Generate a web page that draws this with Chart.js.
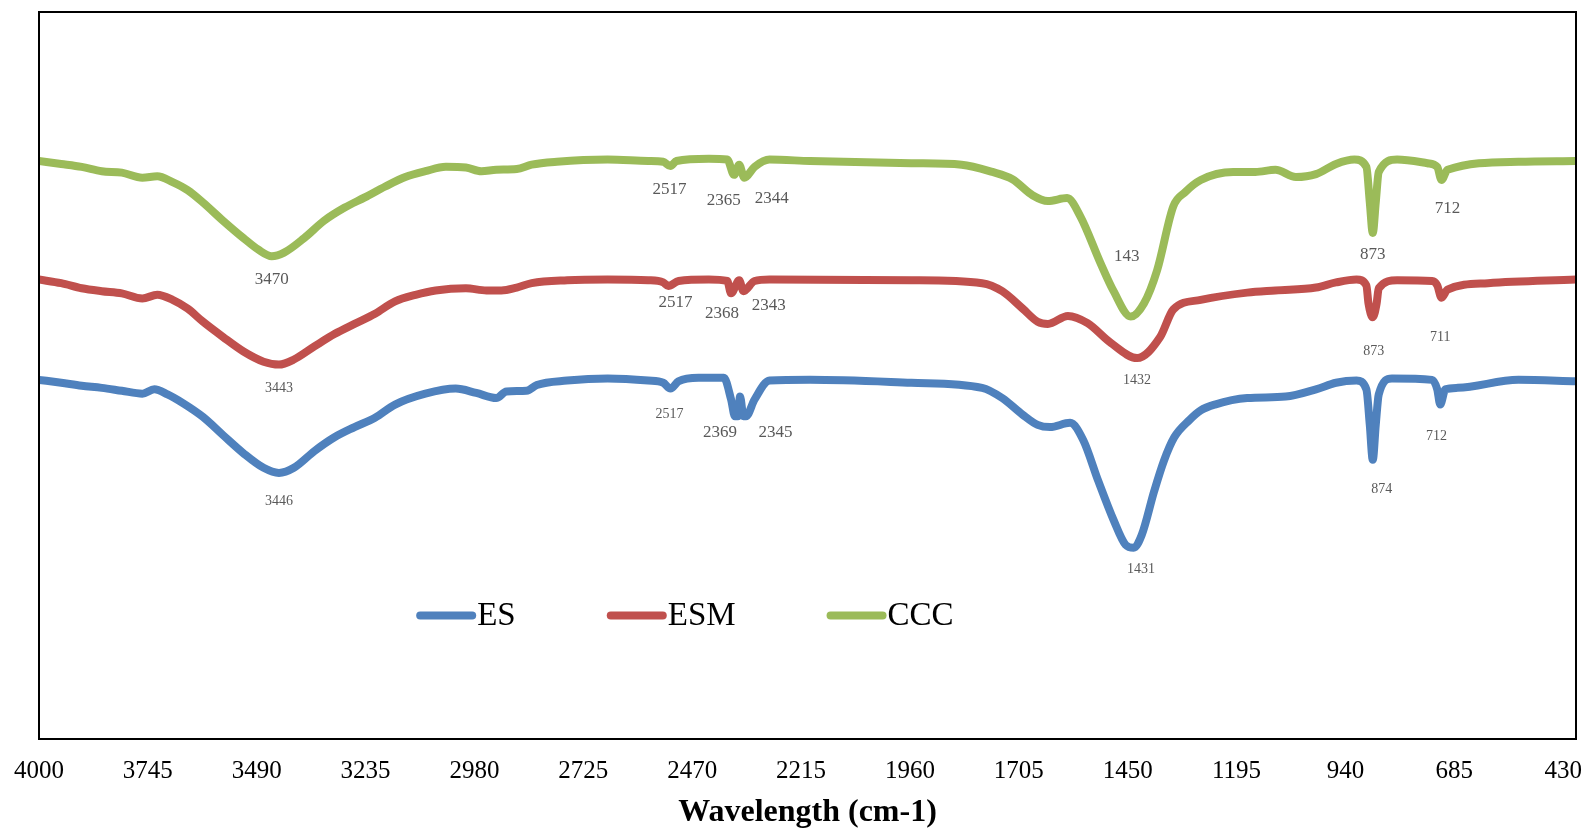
<!DOCTYPE html>
<html>
<head>
<meta charset="utf-8">
<script src="https://cdn.jsdelivr.net/npm/chart.js@4"></script>
<style>
  html, body { margin: 0; padding: 0; background: #fff; }
  #wrap { width: 1587px; height: 830px; }
</style>
</head>
<body>
<div id="wrap"><canvas id="ftirChart" width="1587" height="830"></canvas></div>
<script>
// x ticks (wavenumber, cm-1)
const tickValues = [4000, 3745, 3490, 3235, 2980, 2725, 2470, 2215, 1960, 1705, 1450, 1195, 940, 685, 430];

// ES (blue)
const esWn = [4000, 3948, 3900, 3853, 3806, 3758, 3730, 3699, 3663, 3616, 3569, 3521, 3474, 3438, 3403, 3355, 3308, 3261, 3213, 3166, 3095, 3024, 2976, 2929, 2905, 2858, 2834, 2763, 2668, 2573, 2538, 2521, 2502, 2455, 2396, 2379, 2370, 2363, 2358, 2350, 2344, 2324, 2289, 2194, 1957, 1791, 1744, 1696, 1661, 1632, 1585, 1554, 1519, 1483, 1455, 1436, 1417, 1388, 1365, 1341, 1305, 1279, 1246, 1170, 1080, 1009, 962, 914, 891, 883, 876, 869, 862, 831, 737, 725, 718, 706, 677, 535, 400];
const esT  = [49.4, 49.0, 48.6, 48.3, 47.9, 47.5, 48.1, 47.4, 46.2, 44.3, 41.8, 39.3, 37.3, 36.6, 37.3, 39.6, 41.5, 42.9, 44.2, 46.0, 47.5, 48.2, 47.6, 46.9, 47.8, 47.9, 48.7, 49.3, 49.6, 49.3, 49.0, 48.2, 49.2, 49.7, 49.7, 46.7, 44.4, 44.4, 47.1, 44.4, 44.4, 46.7, 49.3, 49.4, 49.0, 48.3, 46.9, 44.6, 43.2, 42.9, 43.5, 41.1, 35.5, 30.1, 26.7, 26.3, 28.1, 34.1, 38.3, 41.5, 43.9, 45.2, 46.0, 46.9, 47.1, 48.1, 49.0, 49.3, 48.1, 43.2, 38.4, 43.2, 47.4, 49.6, 49.4, 48.1, 46.0, 48.1, 48.3, 49.4, 49.2];

// ESM (red)
const esmWn = [4000, 3948, 3900, 3853, 3806, 3758, 3723, 3687, 3652, 3616, 3569, 3521, 3474, 3438, 3403, 3355, 3308, 3261, 3213, 3166, 3118, 3071, 3000, 2952, 2917, 2881, 2846, 2763, 2668, 2573, 2538, 2526, 2502, 2431, 2388, 2379, 2360, 2350, 2324, 2289, 1957, 1791, 1744, 1696, 1661, 1637, 1590, 1544, 1490, 1428, 1374, 1343, 1279, 1170, 1104, 1009, 962, 914, 891, 886, 876, 867, 862, 819, 737, 725, 715, 701, 606, 400];
const esmT  = [63.2, 62.7, 62.0, 61.6, 61.3, 60.6, 61.1, 60.4, 59.2, 57.4, 55.3, 53.3, 51.9, 51.5, 52.2, 54.0, 55.7, 57.1, 58.5, 60.2, 61.1, 61.7, 62.0, 61.7, 61.7, 62.1, 62.7, 63.1, 63.2, 63.1, 62.8, 62.3, 63.0, 63.2, 63.0, 61.3, 63.1, 61.6, 63.0, 63.2, 63.1, 62.7, 61.6, 59.2, 57.4, 57.1, 58.2, 57.2, 54.5, 52.4, 55.3, 59.1, 60.4, 61.4, 61.7, 62.1, 62.8, 63.2, 62.4, 59.9, 58.0, 59.9, 62.0, 63.1, 63.0, 62.4, 60.7, 61.8, 62.7, 63.2];

// CCC (green)
const cccWn = [4000, 3948, 3900, 3853, 3806, 3758, 3723, 3687, 3652, 3616, 3569, 3521, 3486, 3455, 3426, 3379, 3332, 3284, 3237, 3189, 3142, 3095, 3047, 3000, 2964, 2929, 2881, 2846, 2787, 2668, 2573, 2538, 2521, 2507, 2431, 2388, 2372, 2360, 2348, 2324, 2289, 2194, 1957, 1839, 1767, 1720, 1673, 1637, 1592, 1561, 1514, 1483, 1443, 1412, 1381, 1343, 1316, 1279, 1203, 1151, 1104, 1056, 1009, 962, 919, 891, 883, 876, 869, 862, 819, 748, 725, 715, 701, 535, 400];
const cccT  = [79.5, 79.1, 78.7, 78.1, 77.9, 77.2, 77.4, 76.6, 75.5, 73.8, 71.3, 68.9, 67.3, 66.4, 66.9, 68.9, 71.3, 73.1, 74.5, 76.0, 77.3, 78.1, 78.7, 78.6, 78.1, 78.3, 78.4, 79.0, 79.4, 79.7, 79.5, 79.4, 78.8, 79.5, 79.8, 79.7, 77.6, 79.0, 77.2, 78.7, 79.7, 79.5, 79.2, 79.0, 78.0, 77.0, 74.8, 74.0, 74.4, 71.9, 65.5, 61.6, 58.1, 59.9, 64.5, 73.3, 75.2, 76.9, 78.0, 78.0, 78.3, 77.3, 77.7, 79.1, 79.7, 78.7, 73.8, 69.6, 73.8, 78.0, 79.7, 79.2, 78.7, 76.9, 78.3, 79.4, 79.5];

// peak labels: text, wavenumber, value (label centre), big/small
const peakText = ["3470", "2517", "2365", "2344", "143", "873", "712",
                  "2517", "2368", "2343", "3443", "1432", "873", "711",
                  "2517", "2369", "2345", "3446", "1431", "874", "712"];
const peakWn   = [3455, 2523, 2396, 2284, 1452, 876, 701,
                  2509, 2400, 2291, 3438, 1428, 874, 718,
                  2523, 2405, 2275, 3438, 1419, 855, 727];
const peakT    = [63.2, 75.6, 74.0, 74.4, 66.4, 66.7, 73.0,
                  60.0, 58.5, 59.6, 48.3, 49.4, 53.3, 55.2,
                  44.7, 42.1, 42.1, 32.7, 23.3, 34.4, 41.6];
const peakBig  = [1, 1, 1, 1, 1, 1, 1,
                  1, 1, 1, 0, 0, 0, 0,
                  0, 1, 1, 0, 0, 0, 0];

const seriesNames = ["ES", "ESM", "CCC"];
const seriesColors = ["#4F81BD", "#C0504D", "#9BBB59"];

const toPoints = (wn, t) => wn.map((w, i) => ({ x: w, y: t[i] }));

// frame around the plot area
const frame = {
  id: "frame",
  afterDraw(chart) {
    const { ctx, chartArea: a } = chart;
    ctx.save();
    ctx.strokeStyle = "#000";
    ctx.lineWidth = 2;
    ctx.strokeRect(a.left, a.top, a.right - a.left, a.bottom - a.top);
    ctx.restore();
  }
};

// peak annotations
const peaks = {
  id: "peaks",
  afterDatasetsDraw(chart) {
    const { ctx, scales } = chart;
    ctx.save();
    ctx.fillStyle = "#595959";
    ctx.textAlign = "center";
    ctx.textBaseline = "middle";
    peakText.forEach((txt, i) => {
      ctx.font = (peakBig[i] ? 17 : 14) + "px 'Liberation Serif'";
      ctx.fillText(txt, scales.x.getPixelForValue(peakWn[i]), scales.y.getPixelForValue(peakT[i]));
    });
    ctx.restore();
  }
};

// legend inside the plot area
const innerLegend = {
  id: "innerLegend",
  afterDraw(chart) {
    const { ctx, chartArea: a } = chart;
    const w = a.right - a.left;
    const starts = [0.248, 0.372, 0.515];
    const y = a.top + (a.bottom - a.top) * 0.83;
    ctx.save();
    ctx.font = "33px 'Liberation Serif'";
    ctx.textBaseline = "middle";
    ctx.textAlign = "left";
    ctx.lineCap = "round";
    seriesNames.forEach((name, i) => {
      const x0 = a.left + w * starts[i];
      ctx.strokeStyle = seriesColors[i];
      ctx.lineWidth = 8;
      ctx.beginPath();
      ctx.moveTo(x0, y);
      ctx.lineTo(x0 + 52, y);
      ctx.stroke();
      ctx.fillStyle = "#000";
      ctx.fillText(name, x0 + 57, y + 1);
    });
    ctx.restore();
  }
};

const ctx = document.getElementById("ftirChart").getContext("2d");

new Chart(ctx, {
  type: "line",
  data: {
    datasets: [
      { label: "ES", data: toPoints(esWn, esT), borderColor: seriesColors[0] },
      { label: "ESM", data: toPoints(esmWn, esmT), borderColor: seriesColors[1] },
      { label: "CCC", data: toPoints(cccWn, cccT), borderColor: seriesColors[2] },
    ],
  },
  options: {
    responsive: false,
    animation: false,
    layout: { padding: { left: 39, right: 11, top: 12, bottom: 0 } },
    elements: {
      point: { radius: 0 },
      line: { borderWidth: 8, cubicInterpolationMode: "monotone", borderCapStyle: "round", borderJoinStyle: "round" },
    },
    plugins: {
      legend: { display: false },
      tooltip: { enabled: false },
    },
    scales: {
      x: {
        type: "linear",
        reverse: true,
        min: 400,
        max: 4000,
        afterBuildTicks: (scale) => {
          scale.ticks = tickValues.map((v) => ({ value: v }));
        },
        afterFit: (scale) => {
          scale.paddingLeft = 0;
          scale.paddingRight = 0;
          scale.height = 91;
        },
        grid: { display: false, drawTicks: false },
        border: { display: false },
        ticks: {
          color: "#000",
          padding: 17,
          maxRotation: 0,
          autoSkip: false,
          font: { family: "Liberation Serif", size: 25 },
          callback: (v) => String(v),
        },
        title: {
          display: true,
          text: "Wavelength (cm-1)",
          color: "#000",
          padding: { top: 0, bottom: -2 },
          font: { family: "Liberation Serif", size: 32, weight: "bold" },
        },
      },
      y: {
        display: false,
        min: 0,
        max: 100,
      },
    },
  },
  plugins: [frame, peaks, innerLegend],
});
</script>
</body>
</html>
